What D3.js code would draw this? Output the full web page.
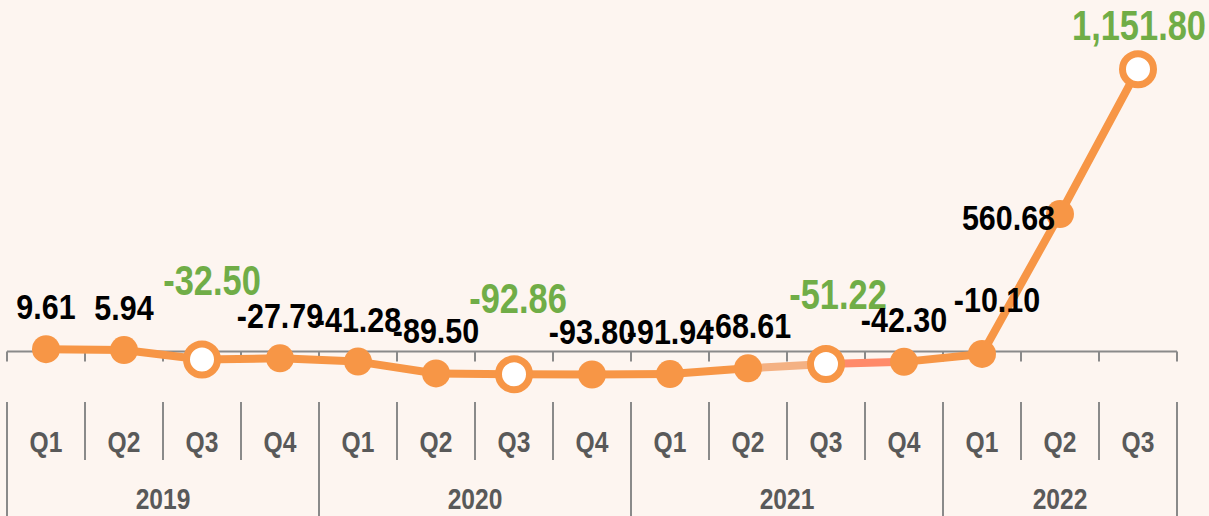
<!DOCTYPE html>
<html>
<head>
<meta charset="utf-8">
<script src="https://cdn.jsdelivr.net/npm/d3@7"></script>
<style>
  html, body { margin: 0; padding: 0; background: #fdf5f0; }
  svg { display: block; }
  text { font-family: "Liberation Sans", Arial, sans-serif; font-weight: bold; }
</style>
</head>
<body>
<div id="chart"></div>
<script>
// quarterly values, 2019 Q1 .. 2022 Q3
var quarters = ["Q1", "Q2", "Q3", "Q4", "Q1", "Q2", "Q3", "Q4", "Q1", "Q2", "Q3", "Q4", "Q1", "Q2", "Q3"];
var years = ["2019", "2020", "2021", "2022"];
var quartersPerYear = [4, 4, 4, 3];
var values = [9.61, 5.94, -32.50, -27.79, -41.28, -89.50, -92.86, -93.80, -91.94, -68.61, -51.22, -42.30, -10.10, 560.68, 1151.80];

var width = 1209, height = 516;
var orange = "#f79646", green = "#70ad47", axisGrey = "#8a8a8a";

var svg = d3.select("#chart").append("svg")
    .attr("width", width)
    .attr("height", height);

svg.append("rect").attr("width", width).attr("height", height).attr("fill", "#fdf5f0");

var idx = d3.range(values.length);

var xScale = d3.scaleBand()
    .domain(idx)
    .range([7, 1177]);

var yScale = d3.scaleLinear()
    .domain([0, 1200])
    .range([351.5, 57.4]);

var bw = xScale.bandwidth();
var cx = function(i) { return xScale(i) + bw / 2; };
// squeeze Liberation Sans horizontally so it reads like Arial Narrow
var place = function(x, y, sx) { return "translate(" + x + "," + y + ") scale(" + (sx || 0.82) + ",1)"; };

// value axis line with small ticks
var y0 = yScale(0);
svg.append("line")
    .attr("x1", 7).attr("x2", 1177)
    .attr("y1", y0).attr("y2", y0)
    .attr("stroke", axisGrey).attr("stroke-width", 2);

var bounds = d3.range(values.length + 1);
svg.selectAll(".tick")
    .data(bounds)
    .enter().append("line")
    .attr("x1", function(d) { return xScale.range()[0] + d * bw; })
    .attr("x2", function(d) { return xScale.range()[0] + d * bw; })
    .attr("y1", y0).attr("y2", y0 + 10)
    .attr("stroke", axisGrey).attr("stroke-width", 2);

// category axis: quarter and year rows
var yearStarts = [0];
quartersPerYear.forEach(function(n, k) { yearStarts.push(yearStarts[k] + n); });

svg.selectAll(".divider")
    .data(bounds)
    .enter().append("line")
    .attr("x1", function(d) { return xScale.range()[0] + d * bw; })
    .attr("x2", function(d) { return xScale.range()[0] + d * bw; })
    .attr("y1", 402)
    .attr("y2", function(d) { return yearStarts.includes(d) ? 516 : 460; })
    .attr("stroke", axisGrey).attr("stroke-width", 2);

svg.selectAll(".qlabel")
    .data(idx)
    .enter().append("text")
    .attr("transform", function(i) { return place(cx(i), 452); })
    .attr("text-anchor", "middle")
    .attr("font-size", 30)
    .attr("fill", "#595959")
    .text(function(i) { return quarters[i]; });

svg.selectAll(".ylabel")
    .data(years)
    .enter().append("text")
    .attr("transform", function(d, k) {
        var a = xScale(yearStarts[k]);
        var b = xScale(yearStarts[k + 1] - 1) + bw;
        return place((a + b) / 2, 509);
    })
    .attr("text-anchor", "middle")
    .attr("font-size", 30)
    .attr("fill", "#595959")
    .text(function(d) { return d; });

// line, drawn segment by segment (two 2021 segments are tinted)
var segColor = { 9: "#f4b183", 10: "#ff8a6a" };
svg.selectAll(".seg")
    .data(idx.slice(0, -1))
    .enter().append("line")
    .attr("x1", function(i) { return cx(i); })
    .attr("y1", function(i) { return yScale(values[i]); })
    .attr("x2", function(i) { return cx(i + 1); })
    .attr("y2", function(i) { return yScale(values[i + 1]); })
    .attr("stroke", function(i) { return segColor[i] || orange; })
    .attr("stroke-width", 8)
    .attr("stroke-linecap", "round");

// markers: Q3 hollow, others filled
svg.selectAll(".pt")
    .data(idx)
    .enter().append("circle")
    .attr("cx", function(i) { return cx(i); })
    .attr("cy", function(i) { return yScale(values[i]); })
    .attr("r", function(i) { return quarters[i] === "Q3" ? 15.5 : 14; })
    .attr("fill", function(i) { return quarters[i] === "Q3" ? "#ffffff" : orange; })
    .attr("stroke", orange)
    .attr("stroke-width", function(i) { return quarters[i] === "Q3" ? 7 : 0; });

// data labels (Q3 labels green and larger), plain hyphen for negatives
var fmt = d3.formatLocale({ decimal: ".", thousands: ",", grouping: [3], currency: ["", ""], minus: "-" }).format(",.2f");
var nudge = {
    2: [10, -64], 6: [4, -61], 10: [12, -55],
    12: [15, -42], 13: [-5, 16, "end"], 14: [1, -29]
};
svg.selectAll(".vlabel")
    .data(idx)
    .enter().append("text")
    .attr("transform", function(i) {
        var dx = nudge[i] ? nudge[i][0] : 0;
        var dy = nudge[i] ? nudge[i][1] : -30;
        return place(cx(i) + dx, yScale(values[i]) + dy, quarters[i] === "Q3" ? 0.82 : 0.87);
    })
    .attr("text-anchor", function(i) { return nudge[i] && nudge[i][2] ? nudge[i][2] : "middle"; })
    .attr("font-size", function(i) { return quarters[i] === "Q3" ? 42 : 35; })
    .attr("fill", function(i) { return quarters[i] === "Q3" ? green : "#000000"; })
    .text(function(i) { return fmt(values[i]); });
</script>
</body>
</html>
